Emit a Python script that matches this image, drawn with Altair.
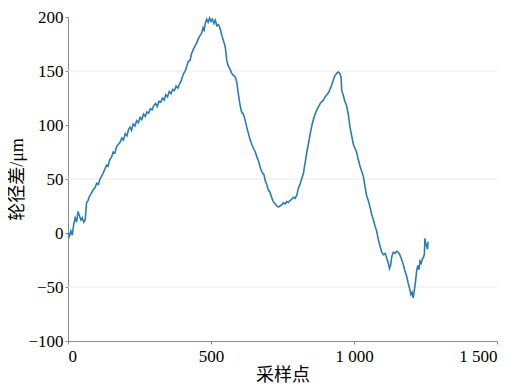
import altair as alt
import pandas as pd

sample_x = [0, 5, 10, 15, 20, 25, 30, 35, 40, 45, 50, 55, 60, 65, 70, 75, 80, 88, 95, 100,
            106, 112, 118, 124, 130, 135, 140, 146, 152, 158, 164, 170, 176, 182, 188, 194, 200,
            206, 212, 217, 222, 228, 234, 240, 246, 252, 258, 264, 270, 276, 282, 288, 294, 300,
            306, 312, 318, 324, 330, 336, 342, 348, 354, 360, 366, 372, 378, 384, 390, 396, 403,
            410, 416, 421, 427, 432, 438, 444, 450, 456, 462, 467, 472, 476, 480, 485, 490, 495,
            500, 505, 510, 515, 520, 526, 531, 536, 541, 546, 550, 555, 560, 566, 572, 578, 584,
            590, 596, 602, 607, 613, 619, 625, 631, 637, 643, 649, 655, 661, 667, 673, 679, 685,
            690, 695, 700, 706, 712, 718, 724, 730, 736, 741, 747, 753, 759, 765, 770, 776, 782,
            788, 794, 800, 806, 811, 817, 823, 829, 835, 841, 847, 853, 859, 864, 870, 876, 882,
            888, 893, 899, 905, 911, 916, 922, 928, 934, 940, 945, 950, 955, 957, 962, 968, 974,
            980, 986, 992, 998, 1004, 1009, 1015, 1021, 1027, 1033, 1039, 1044, 1050, 1056, 1062,
            1068, 1074, 1079, 1085, 1091, 1097, 1103, 1109, 1114, 1120, 1124, 1128, 1132, 1137,
            1143, 1149, 1155, 1160, 1166, 1172, 1178, 1184, 1190, 1195, 1199, 1203, 1207, 1211,
            1215, 1219, 1223, 1227, 1231, 1235, 1239, 1242, 1246, 1248, 1251, 1254, 1257, 1259]

wheel_diff = [0, -3, 2, -2, 8, 14, 10, 20, 16, 12, 14, 10, 12, 28, 30, 34, 36, 40, 42, 46,
              45, 50, 53, 56, 60, 63, 62, 68, 70, 75, 74, 80, 82, 84, 88, 86, 92,
              90, 96, 98, 95, 101, 99, 104, 102, 107, 105, 110, 108, 112, 111, 115, 114, 118,
              120, 117, 122, 121, 125, 123, 128, 126, 131, 129, 133, 132, 136, 134, 138, 141, 147,
              150, 155, 159, 160, 166, 170, 173, 176, 180, 183, 185, 190, 188, 194, 198, 195, 199,
              196, 198, 194, 197, 192, 193, 190, 185, 180, 176, 172, 160, 155, 152, 148, 146, 145,
              140, 128, 118, 112, 110, 105, 98, 92, 86, 82, 78, 75, 70, 66, 60, 56, 54,
              48, 45, 40, 38, 33, 29, 27, 25, 24, 25, 26, 28, 27, 29, 28, 30, 31,
              33, 32, 35, 42, 45, 50, 55, 65, 75, 83, 92, 100, 106, 110, 114, 117, 120,
              122, 123, 126, 128, 130, 133, 137, 142, 146, 148, 149, 148, 144, 132, 128, 122, 118,
              110, 98, 90, 82, 78, 75, 68, 62, 57, 52, 42, 35, 30, 24, 17,
              12, 6, 2, -6, -12, -18, -20, -19, -23, -28, -33, -30, -22, -18,
              -19, -17, -18, -20, -24, -29, -35, -40, -47, -52, -57, -55, -60, -53,
              -45, -35, -30, -34, -26, -28, -24, -23, -20, -5, -10, -12, -15, -8]

grid_values = [150, 50, -50]
y_ticks = [-100, -50, 0, 50, 100, 150, 200]
x_ticks = [0, 500, 1000, 1500]

df = pd.DataFrame({"x": sample_x, "y": wheel_diff})
grid_df = pd.DataFrame({"g": grid_values})

font = "'Liberation Serif', 'Noto Sans CJK SC', serif"

yaxis = alt.Axis(values=y_ticks, title="轮径差/μm", grid=False,
                 labelFontSize=17, titleFontSize=18, labelFont=font, titleFont=font,
                 labelColor="black", titleColor="black", titleFontWeight="normal",
                 domainColor="#8a8a8a", tickColor="#8a8a8a", tickSize=3,
                 labelPadding=2, titlePadding=1)

grid = alt.Chart(grid_df).mark_rule(color="#e8e8e8", strokeWidth=1).encode(
    y=alt.Y("g:Q", scale=alt.Scale(domain=[-100, 200], nice=False), axis=yaxis)
)

line = alt.Chart(df).mark_line(color="#2a7db3", strokeWidth=1.6).encode(
    x=alt.X("x:Q", scale=alt.Scale(domain=[0, 1500], nice=False),
            axis=alt.Axis(values=x_ticks, title="采样点", grid=False,
                          labelExpr="replace(format(datum.value, ','), ',', ' ')",
                          labelFontSize=17, titleFontSize=18, labelFont=font, titleFont=font,
                          labelColor="black", titleColor="black", titleFontWeight="normal",
                          domainColor="#8a8a8a", tickColor="#8a8a8a", tickSize=3,
                          labelPadding=4, titlePadding=2)),
    y=alt.Y("y:Q", scale=alt.Scale(domain=[-100, 200], nice=False), axis=yaxis),
)

chart = alt.layer(grid, line).properties(
    width=429, height=324,
    autosize=alt.AutoSizeParams(type="none"),
    padding={"left": 60, "top": 9, "right": 12, "bottom": 43},
).configure_axis(grid=False).configure_view(strokeWidth=0)

chart.save("out.html", embed_options={"renderer": "svg", "actions": False})
